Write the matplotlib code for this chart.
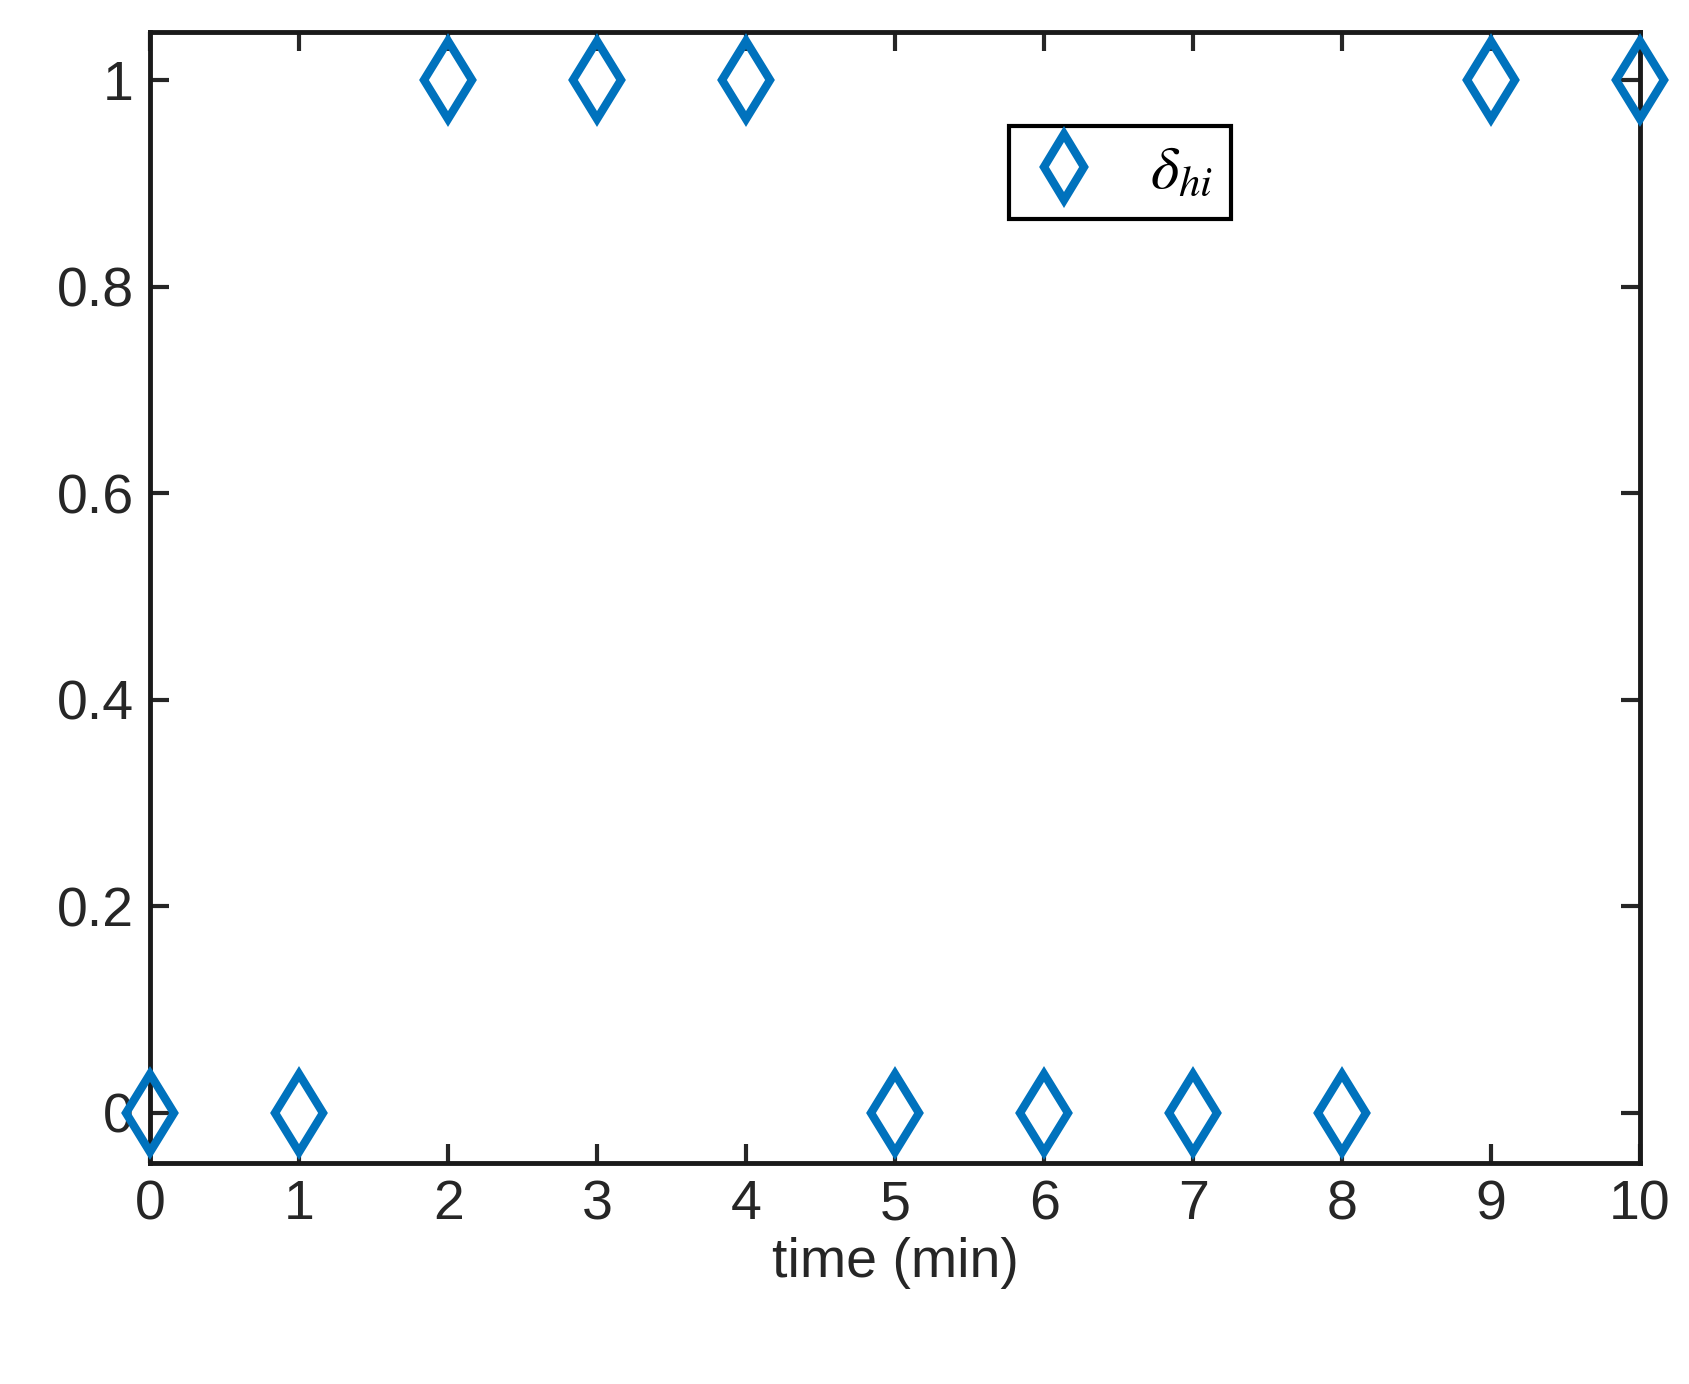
import matplotlib
matplotlib.use("Agg")
import matplotlib.pyplot as plt

time_min = [0, 1, 2, 3, 4, 5, 6, 7, 8, 9, 10]
delta_hi = [0, 0, 1, 1, 1, 0, 0, 0, 0, 1, 1]
xticks = [0, 1, 2, 3, 4, 5, 6, 7, 8, 9, 10]
yticks = [0, 0.2, 0.4, 0.6, 0.8, 1]
ytick_labels = ["0", "0.2", "0.4", "0.6", "0.8", "1"]

plt.rcParams['font.family'] = ['Liberation Sans', 'DejaVu Sans']
plt.rcParams['mathtext.fontset'] = 'stix'

fig = plt.figure(figsize=(16.89, 13.84), dpi=100)
ax = fig.add_axes([0.089, 0.160, 0.882, 0.817])
ax.plot(time_min, delta_hi, linestyle='none', marker='d', markersize=40,
        markeredgewidth=6, markerfacecolor='none', markeredgecolor='#0072BD',
        label=r'$\delta_{hi}$', clip_on=False, zorder=5)
ax.set_xlim(0, 10)
ax.set_ylim(-0.048, 1.047)
ax.set_xticks(xticks)
ax.set_yticks(yticks)
ax.set_yticklabels(ytick_labels)
ax.tick_params(direction='in', length=14, width=3, labelsize=40, top=True, right=True, pad=12, colors='#262626')
for s in ax.spines.values():
    s.set_linewidth(3.5)
    s.set_color('#1a1a1a')
ax.set_xlabel('time (min)', fontsize=40, color='#262626', labelpad=4)
leg = ax.legend(loc='upper left', bbox_to_anchor=(0.556, 0.944), fontsize=44,
                fancybox=False, edgecolor='black', framealpha=1, handlelength=1.2,
                borderpad=0.3, handletextpad=0.8, markerscale=0.85)
leg.get_frame().set_linewidth(3)
fig.savefig('out.png', dpi=100)
